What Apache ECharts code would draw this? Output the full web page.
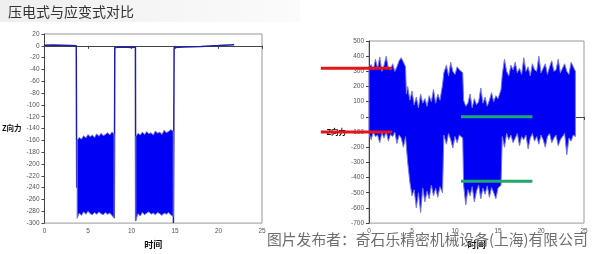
<!DOCTYPE html>
<html><head><meta charset="utf-8">
<script src="https://cdn.jsdelivr.net/npm/echarts@6/dist/echarts.min.js"></script>
<style>html,body{margin:0;padding:0;background:#fff}#c{width:600px;height:254px}</style>
</head><body><div id="c"></div>
<script>
// ---------- data ----------
const titleText = '压电式与应变式对比';
const watermarkText = '图片发布者：奇石乐精密机械设备(上海)有限公司';
const yName = 'Z向力';
const xName = '时间';

// left chart (piezoelectric): flat trace segments [t, value]
const leftFlat1 = [[0,1],[1,1.5],[2,1],[3,0.5],[3.65,0],[3.7,-240]];
const leftFlat2 = [[8.02,-292],[8.08,-3],[9,-2],[10,-3],[10.45,-2],[10.48,-296]];
const leftFlat3 = [[14.82,-300],[14.9,-3],[16,-2],[18,-1],[20,0.5],[21.8,2]];
// left oscillation bands [t, upper, lower]
const leftBand1 = [
  [3.75,-160,-292],[4.0,-155,-283],[4.25,-158,-287],[4.5,-152,-281],[4.75,-156,-285],
  [5.0,-150,-280],[5.25,-154,-284],[5.5,-151,-286],[5.75,-155,-282],[6.0,-149,-285],
  [6.25,-153,-281],[6.5,-148,-284],[6.75,-152,-286],[7.0,-150,-282],[7.25,-147,-285],
  [7.5,-151,-283],[7.75,-146,-287],[8.0,-149,-291]
];
const leftBand2 = [
  [10.5,-153,-295],[10.75,-148,-284],[11.0,-151,-288],[11.25,-146,-282],[11.5,-150,-286],
  [11.75,-145,-283],[12.0,-149,-281],[12.25,-147,-285],[12.5,-151,-283],[12.75,-144,-286],
  [13.0,-148,-282],[13.25,-146,-284],[13.5,-150,-287],[13.75,-143,-283],[14.0,-147,-285],
  [14.25,-145,-282],[14.5,-142,-286],[14.8,-144,-289]
];

// right chart (strain gauge): envelope [t, upper, lower]
const rightBand = [
  [0,330,-110],[0.25,345,-150],[0.5,310,-100],[0.75,380,-130],[1,320,-120],[1.25,395,-170],
  [1.5,300,-105],[1.75,340,-140],[2,400,-95],[2.25,320,-160],[2.5,310,-115],[2.75,350,-130],
  [3,300,-100],[3.25,330,-175],[3.5,370,-120],[3.75,390,-140],[4,360,-200],[4.25,330,-130],
  [4.35,150,-200],[4.5,200,-300],[4.75,110,-430],[5,170,-520],[5.25,80,-480],[5.5,130,-600],
  [5.75,60,-500],[6,150,-630],[6.25,90,-470],[6.5,120,-560],[6.75,70,-490],[7,140,-540],
  [7.25,100,-450],[7.5,180,-520],[7.75,90,-470],[8,150,-530],[8.25,110,-460],[8.55,210,-500],
  [8.7,290,-120],[9,340,-180],[9.25,270,-110],[9.5,360,-150],[9.75,300,-205],[10,280,-130],
  [10.25,330,-170],[10.5,310,-120],[10.9,290,-140],
  [11.0,110,-450],[11.25,70,-580],[11.5,90,-480],[11.75,150,-520],[12,60,-460],[12.25,120,-560],
  [12.5,80,-490],[12.75,100,-450],[13,190,-540],[13.25,90,-470],[13.5,130,-510],[13.75,70,-455],
  [14,110,-530],[14.25,160,-465],[14.5,100,-500],[14.75,140,-540],[15,120,-470],[15.35,180,-450],
  [15.5,280,-130],[15.75,380,-200],[16,300,-110],[16.25,270,-150],[16.5,340,-120],[16.75,310,-170],
  [17,360,-140],[17.25,290,-110],[17.5,320,-190],[17.75,280,-130],[18,390,-150],[18.25,300,-120],
  [18.5,330,-210],[18.75,270,-140],[19,350,-110],[19.25,310,-160],[19.5,300,-130],[19.75,400,-180],
  [20,290,-120],[20.25,320,-150],[20.5,350,-200],[20.75,280,-130],[21,330,-110],[21.25,370,-170],
  [21.5,300,-140],[21.75,310,-120],[22,380,-190],[22.25,290,-150],[22.5,320,-130],[22.75,350,-110],
  [23,300,-250],[23.25,280,-140],[23.5,360,-160],[23.75,330,-120],[24,300,-130]
];
// annotation lines [x0, x1, value]
const redLines = [[-5.6, 2.7, 320], [-5.6, 2.7, -100]];
const greenLines = [[10.7, 19.0, 0], [10.7, 19.0, -425]];

// axis settings
const xMin = 0, xMax = 25, xStep = 5;
const leftYMin = -300, leftYMax = 20, leftYStep = 20;
const rightYMin = -700, rightYMax = 500, rightYStep = 100;

// ---------- chart ----------
const chart = echarts.init(document.getElementById('c'), null, {renderer:'canvas'});
const tickFont = {fontSize:6.5, color:'#555', fontFamily:'Liberation Sans'};

function xAxis(gi, gap){
  return {type:'value', gridIndex:gi, min:xMin, max:xMax, interval:xStep,
    name:xName, nameLocation:'middle', nameGap:gap,
    nameTextStyle:{fontSize:9, fontWeight:'bold', color:'#111', fontFamily:'Noto Sans CJK SC'},
    axisLine:{show:true, lineStyle:{color:'#444', width:1}},
    axisTick:{show:true, length:3, lineStyle:{color:'#444'}},
    axisLabel:Object.assign({margin:5}, tickFont),
    splitLine:{show:false}};
}
function yAxis(gi, mn, mx, st, gap){
  return {type:'value', gridIndex:gi, min:mn, max:mx, interval:st,
    name:yName, nameLocation:'middle', nameGap:gap, nameRotate:0,
    nameTextStyle:{fontSize:7.5, fontWeight:'bold', color:'#111', fontFamily:'Noto Sans CJK SC'},
    axisLine:{show:true, lineStyle:{color:'#444', width:1}},
    axisTick:{show:true, length:3, lineStyle:{color:'#444'}},
    axisLabel:Object.assign({margin:5}, tickFont),
    splitLine:{show:false}};
}
function band(xi, rows){
  return {type:'custom', xAxisIndex:xi, yAxisIndex:xi, data:[[rows[0][0], rows[0][1]]], z:3, silent:true,
    renderItem:function(params, api){
      const up = rows.map(r => api.coord([r[0], r[1]]));
      const lo = rows.map(r => api.coord([r[0], r[2]])).reverse();
      return {type:'polygon', shape:{points:up.concat(lo)},
        style:{fill:'#0000f5', stroke:'#7a7ae6', lineWidth:1}};
    }};
}
function line(xi, data, color, width, z){
  return {type:'line', xAxisIndex:xi, yAxisIndex:xi, data:data, symbol:'none', silent:true,
    z:z, lineStyle:{color:color, width:width}, animation:false};
}
function segs(xi, rows, color){
  return {type:'custom', xAxisIndex:xi, yAxisIndex:xi, clip:false, silent:true, z:6,
    data:rows.map(r => [r[0], r[2]]),
    renderItem:function(params, api){
      const r = rows[params.dataIndex];
      const a = api.coord([r[0], r[2]]), b = api.coord([r[1], r[2]]);
      return {type:'line', shape:{x1:a[0], y1:a[1], x2:b[0], y2:b[1]},
        style:{stroke:color, lineWidth:3}};
    }};
}

chart.setOption({
  animation:false,
  backgroundColor:'#fff',
  grid:[
    {left:40, top:34, right:338, bottom:29, show:true, borderColor:'#999', borderWidth:1},
    {left:369, top:41, right:16, bottom:23, show:true, borderColor:'#999', borderWidth:1}
  ],
  xAxis:[xAxis(0,14), xAxis(1,9)],
  yAxis:[yAxis(0,leftYMin,leftYMax,leftYStep,20), yAxis(1,rightYMin,rightYMax,rightYStep,16)],
  graphic:[
    {type:'rect', left:0, top:0, z:-10, shape:{width:300, height:22},
      style:{fill:new echarts.graphic.LinearGradient(0,0,1,0,[{offset:0,color:'#efefef'},{offset:1,color:'#fbfbfb'}])}},
    {type:'text', left:8, top:5, z:10, style:{text:titleText, fontSize:14, fill:'#333', fontFamily:'Noto Sans CJK SC'}},
    {type:'text', left:267, top:232, z:100, style:{text:watermarkText, fontSize:14.8, fill:'#6e6e6e', fontFamily:'Noto Sans CJK SC'}}
  ],
  series:[
    line(0, leftFlat1, '#1e1ea8', 1.5, 2),
    line(0, leftFlat2, '#1e1ea8', 1.5, 2),
    line(0, leftFlat3, '#1e1ea8', 1.5, 2),
    band(0, leftBand1),
    band(0, leftBand2),
    band(1, rightBand),
    segs(1, redLines, '#e5141b'),
    segs(1, greenLines, '#1ea86e')
  ]
});
</script></body></html>
